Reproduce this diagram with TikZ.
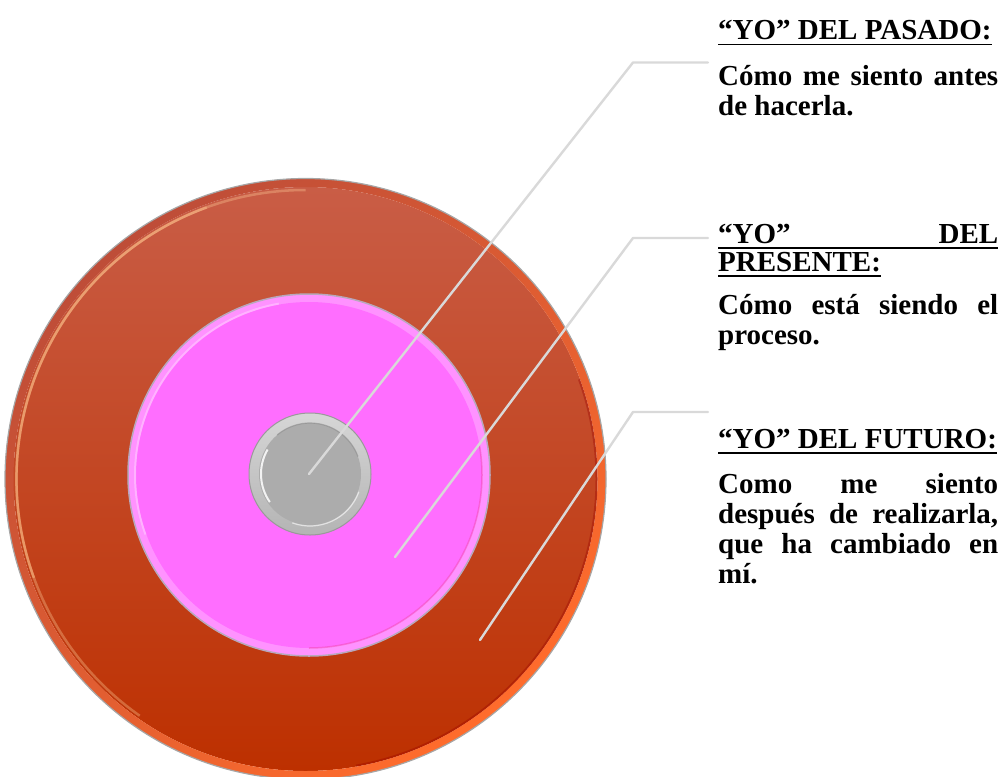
\documentclass[tikz,border=0pt]{standalone}
\usepackage{fontspec}
\setmainfont{Liberation Serif}
\hyphenpenalty=10000
\exhyphenpenalty=10000
\tolerance=10000
\newcommand\myul[1]{\leavevmode\setbox0\hbox{#1}\rlap{\rule[-5.5pt]{\wd0}{1.8pt}}\box0}
\newcommand\fullul[1]{\leavevmode\hbox to \linewidth{\rlap{\rule[-5.5pt]{\linewidth}{1.8pt}}#1}}
\definecolor{linegray}{HTML}{D9D9D9}
\definecolor{ortop}{HTML}{C95D46}
\definecolor{ormid}{HTML}{C3431A}
\definecolor{orbot}{HTML}{BD3000}
\definecolor{rimul}{HTML}{BE4D38}
\definecolor{rimmid}{HTML}{D85632}
\definecolor{rimlr}{HTML}{FF6C2C}
\definecolor{pinkmain}{HTML}{FF6EFF}
\definecolor{pinkrim}{HTML}{FF92FF}
\definecolor{pinkedge}{HTML}{B8A8BC}
\definecolor{graytop}{HTML}{D6D6D6}
\definecolor{graybot}{HTML}{B4B4B4}
\definecolor{graycore}{HTML}{ACACAC}
\tikzset{
  conn/.style={draw=linegray, line width=2.4pt, line cap=round, line join=round},
  lbl/.style={anchor=base west, inner sep=0pt, text width=280pt, align=justify,
    font=\fontsize{29}{30}\selectfont\bfseries},
}
\begin{document}
\begin{tikzpicture}[x=1pt,y=-1pt]
\useasboundingbox (0,0) rectangle (1008,776);
% ---------- outer disc ----------
\coordinate (oc) at (305.5,479);
\shade[top color=ortop, middle color=ormid, bottom color=orbot]
  (oc) circle[radius=292];
\shade[even odd rule, top color=rimul, middle color=rimmid, bottom color=rimlr, shading angle=40]
  (oc) circle[radius=300.5] (oc) circle[radius=292];
\draw[color=gray!70, line width=1.2pt] (oc) circle[radius=300.5];
\draw[color=orange!40!white, opacity=0.35, line width=2.5pt]
  (oc) ++(-90:289) arc[start angle=-90, end angle=-235, radius=289];
\draw[color=orange!45!white, opacity=0.45, line width=2.5pt]
  (oc) ++(-110:289) arc[start angle=-110, end angle=-200, radius=289];
\draw[color=red!60!black, opacity=0.35, line width=2pt]
  (oc) ++(80:291) arc[start angle=80, end angle=-20, radius=291];
% ---------- pink disc ----------
\coordinate (pc) at (309,475);
\fill[pinkrim] (pc) circle[radius=181];
\fill[pinkmain] (pc) circle[radius=173];
\draw[color=magenta!70!pink, opacity=0.4, line width=1.5pt]
  (pc) ++(90:173) arc[start angle=90, end angle=-10, radius=173];
\draw[color=white, opacity=0.3, line width=2pt]
  (pc) ++(-100:174) arc[start angle=-100, end angle=-200, radius=174];
\draw[color=pinkedge, line width=1.5pt] (pc) circle[radius=181];
% ---------- gray disc ----------
\coordinate (gc) at (310,474);
\shade[top color=graytop, bottom color=graybot] (gc) circle[radius=61];
\fill[graycore] (gc) circle[radius=51];
\draw[color=gray!90, opacity=0.6, line width=1.2pt]
  (gc) ++(-20:51) arc[start angle=-20, end angle=-130, radius=51];
\draw[color=white, opacity=0.85, line width=2pt]
  (gc) ++(-150:49) arc[start angle=-150, end angle=-215, radius=49];
\draw[color=white, opacity=0.6, line width=1.2pt]
  (gc) ++(20:52) arc[start angle=20, end angle=110, radius=52];
\draw[color=gray!80, line width=1pt] (gc) circle[radius=61];
% ---------- connectors ----------
\coordinate (c1) at (309,474);
\coordinate (b1) at (633,62.5);
\coordinate (e1) at (708,62.5);
\coordinate (c2) at (395,557);
\coordinate (b2) at (633,238);
\coordinate (e2) at (708,238);
\coordinate (c3) at (480,640);
\coordinate (b3) at (633,412);
\coordinate (e3) at (708,412);
\draw[conn] (c1) -- (b1) -- (e1);
\draw[conn] (c2) -- (b2) -- (e2);
\draw[conn] (c3) -- (b3) -- (e3);
% ---------- labels ----------
\node[lbl] (pasado) at (718,40)
  {\myul{“YO” DEL PASADO:}\par\vspace{16pt}Cómo me siento antes de hacerla.};
\node[lbl] (presente) at (718,243)
  {\fullul{“YO”\hfill DEL}\par\vspace{-2pt}\myul{PRESENTE:}\par\vspace{13pt}Cómo está siendo el proceso.};
\node[lbl] (futuro) at (718,448)
  {\myul{“YO” DEL FUTURO:}\par\vspace{15pt}Como me siento después de realizarla, que ha cambiado en mí.};
\end{tikzpicture}
\end{document}
